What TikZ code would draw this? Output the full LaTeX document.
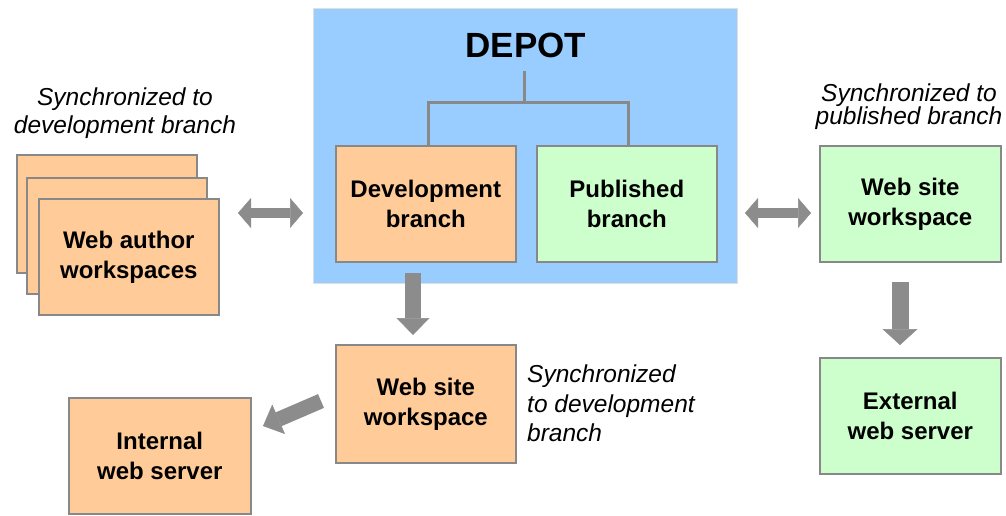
\documentclass[tikz,border=0pt]{standalone}
\usepackage{fontspec}
\setmainfont{Liberation Sans}
\usetikzlibrary{arrows.meta}
\definecolor{orangefill}{HTML}{FFCC99}
\definecolor{greenfill}{HTML}{CCFFCC}
\definecolor{bluefill}{HTML}{99CCFF}
\definecolor{edgegray}{HTML}{888888}
\definecolor{arrowgray}{HTML}{8C8C8C}
\begin{document}
\begin{tikzpicture}[x=1pt,y=-1pt,
  box/.style={draw=edgegray,line width=1.6pt,inner sep=0pt,align=center,anchor=north west,
    minimum width=180pt,minimum height=116pt,font=\fontsize{24}{30}\selectfont\bfseries},
  orangebox/.style={box,fill=orangefill},
  greenbox/.style={box,fill=greenfill},
  note/.style={font=\fontsize{24.5}{28}\selectfont\itshape,inner sep=0pt},
  tree/.style={draw=edgegray,line width=3pt},
  bigarrow/.style={draw=arrowgray,line width=#1},
  onehead/.style n args={3}{bigarrow=#1,-{Triangle[length=#2,width=#3,line width=0.5pt]}},
  twohead/.style n args={3}{bigarrow=#1,{Triangle[length=#2,width=#3,line width=0.5pt]}-{Triangle[length=#2,width=#3,line width=0.5pt]}}
]
\useasboundingbox (0,0) rectangle (1006,515);

% depot
\node[anchor=north west,minimum width=424pt,minimum height=275pt,fill=bluefill,draw=gray!25,line width=1pt,inner sep=0pt] (depot) at (313,8) {};
\node[font=\fontsize{35}{38}\selectfont\bfseries,inner sep=0pt] (title) at (526,45) {DEPOT};
\node[orangebox] (dev) at (335,145) {Development\\branch};
\node[greenbox] (pub) at (536,145) {Published\\branch};
\coordinate (tj) at (524,102);
\draw[tree] ([yshift=-13pt]title.south -| tj) -- (tj);
\draw[tree] ([xshift=2.5pt]dev.north) |- (tj) -| ([xshift=2pt]pub.north);

% web author stack
\node[orangebox,minimum height=118pt] (back) at (16,154) {};
\node[orangebox] (mid) at (26,177) {};
\node[orangebox] (author) at (38,198) {Web author\\workspaces};

% other boxes
\node[orangebox,minimum height=118pt] (wsl) at (335,344) {Web site\\workspace};
\node[orangebox,minimum width=182pt] (internal) at (68,397) {Internal\\web server};
\node[greenbox,minimum width=181pt] (wsr) at (819,145) {Web site\\workspace};
\node[greenbox,minimum width=181pt] (external) at (819,357) {External\\web server};

% labels
\node[note,align=center] (lab1) at (125,113) {Synchronized to\\development branch};
\node[note,align=center,font=\fontsize{24.5}{23}\selectfont\itshape] (lab2) at (909,107) {Synchronized to\\published branch};
\node[note,align=left,anchor=north west,font=\fontsize{24.5}{29.5}\selectfont\itshape] (lab3) at (527,365) {Synchronized\\to development\\branch};

% arrows
\coordinate (la1) at (238,213); \coordinate (la2) at (303,213);
\coordinate (ra1) at (745,213); \coordinate (ra2) at (811,213);
\coordinate (md1) at (413,273); \coordinate (md2) at (413,335);
\coordinate (rd1) at (900,282); \coordinate (rd2) at (900,345);
\coordinate (dg1) at (321,401); \coordinate (dg2) at (263,426);
\draw[twohead={10pt}{13pt}{30pt}] (la1) -- (la2);
\draw[twohead={10pt}{13pt}{30pt}] (ra1) -- (ra2);
\draw[onehead={16pt}{17pt}{33pt}] (md1) -- (md2);
\draw[onehead={17pt}{16pt}{35pt}] (rd1) -- (rd2);
\draw[onehead={15pt}{17pt}{32pt}] (dg1) -- (dg2);
\end{tikzpicture}
\end{document}
